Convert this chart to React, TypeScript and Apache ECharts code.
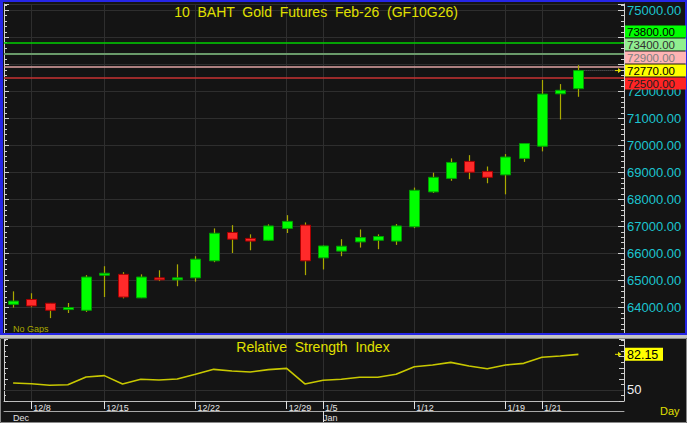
import React, { useEffect, useRef } from 'react';
import * as echarts from 'echarts';

const dates = ['12/5','12/8','12/9','12/11','12/12','12/15','12/16','12/17','12/18','12/19','12/22','12/23','12/24','12/25','12/26','12/29','12/30','1/5','1/6','1/7','1/8','1/9','1/12','1/13','1/14','1/15','1/16','1/19','1/20','1/21','1/22','1/23'];
const open = [64120,64300,64160,63940,63900,65210,65230,64360,65100,65040,65100,65730,66780,66560,66490,66930,67050,65840,66090,66430,66490,66460,66990,68280,68780,69410,69040,68910,69520,69970,71910,72100];
const close = [64240,64060,63900,64000,65130,65270,64390,65130,65030,65100,65790,66750,66530,66460,67020,67190,65730,66280,66270,66590,66630,67020,68340,68820,69370,69010,68820,69570,70070,71900,72040,72770];
const high = [64600,64530,64170,64170,65200,65530,65310,65230,65380,65600,65900,66930,67050,66710,67080,67420,67150,66300,66530,66890,66710,67090,68440,68990,69520,69640,69220,69680,70080,72420,72270,72970];
const low = [64000,64010,63610,63800,63840,64390,64340,64350,64980,64790,64960,65680,66020,66120,66480,66760,65200,65410,65900,66220,66160,66320,66940,68240,68690,68750,68600,68190,69390,69780,70960,71800];
const rsi = [56.3,55.6,54.2,54.7,61.7,62.9,55.4,59.6,59.0,59.9,64.1,68.6,67.1,66.2,68.3,69.5,55.4,58.7,59.7,61.4,61.4,64.1,71.0,72.5,74.9,71.6,69.2,72.5,74.0,79.5,80.6,82.15];
const gridDates = ['12/8','12/15','12/22','12/29','1/5','1/12','1/19','1/21'];
const monthNames: Record<string, string> = { '12': 'Dec', '1': 'Jan' };
const levelValues = [73800, 73400, 72900, 72500];
const levelLineColors = ['#00d000', '#6a9a6a', '#e0a4a4', '#c83232'];
const levelBoxColors = ['#00ff00', '#90ee90', '#ffb4b4', '#ff2424'];
const levelTextColors = ['#000000', '#303030', '#808080', '#202020'];
const lastPrice = close[close.length - 1];
const rsiLast = rsi[rsi.length - 1];
const title = '10  BAHT  Gold  Futures  Feb-26  (GF10G26)';
const rsiTitle = 'Relative  Strength  Index';

const FONT = 'Liberation Sans, Arial, sans-serif';
const YELLOW = '#e0e000';

export default function App() {
  const ref = useRef<HTMLDivElement>(null);
  useEffect(() => {
    const chart = echarts.init(ref.current!, null, { renderer: 'svg' });
    const cats = [...dates, ' ', '  '];
    const ohlc = dates.map((_, i) => [i, open[i], close[i], low[i], high[i]]);
    const monthStart = (i: number) => i < dates.length && (i === 0 || dates[i].split('/')[0] !== dates[i - 1].split('/')[0]);
    const vGrid = gridDates.map((d) => ({ xAxis: d }));

    const option: any = {
      animation: false,
      backgroundColor: '#141414',
      textStyle: { fontFamily: FONT },
      grid: [
        { left: 4, right: 63, top: 4, height: 330.6 },
        { left: 4, right: 63, top: 339, height: 62 },
      ],
      xAxis: [
        { type: 'category', gridIndex: 0, data: cats, boundaryGap: true, axisLine: { show: false }, axisTick: { show: false }, axisLabel: { show: false }, splitLine: { show: false } },
        {
          type: 'category', gridIndex: 1, data: cats, boundaryGap: true, position: 'bottom',
          axisLine: { show: true, lineStyle: { color: '#bdbdbd', width: 1 } },
          axisTick: { show: true, alignWithLabel: true, length: 8, interval: (i: number, v: string) => gridDates.includes(v), lineStyle: { color: '#e0e0e0' } },
          axisLabel: { show: true, interval: (i: number, v: string) => gridDates.includes(v), align: 'left', padding: [0, 0, 0, 2], margin: 2, fontSize: 9, color: '#e6e6e6', fontFamily: FONT },
          splitLine: { show: false },
        },
        {
          type: 'category', gridIndex: 1, data: cats, boundaryGap: true, position: 'bottom', offset: 10,
          axisLine: { show: true, lineStyle: { color: '#a8a8a8', width: 1 } },
          axisTick: { show: true, alignWithLabel: true, length: 12, interval: (i: number) => i > 0 && monthStart(i), lineStyle: { color: '#e0e0e0' } },
          axisLabel: { show: true, interval: (i: number) => monthStart(i), formatter: (v: string) => monthNames[v.split('/')[0]] || '', align: 'left', margin: 2, fontSize: 9, color: '#e0e0e0', fontFamily: FONT },
          splitLine: { show: false },
        },
      ],
      yAxis: [
        {
          type: 'value', gridIndex: 0, position: 'right', min: 63000, max: 75233, interval: 1000,
          axisLine: { show: true, lineStyle: { color: '#d0d0d0' } },
          axisTick: { show: true, inside: true, length: 6, lineStyle: { color: '#d0d0d0' } },
          minorTick: { show: true, splitNumber: 5, length: 3, lineStyle: { color: '#d0d0d0' } },
          axisLabel: { show: true, margin: 3, fontSize: 13, color: '#1cc4d0', fontFamily: FONT, formatter: (v: number) => (v % 1000 === 0 && v >= 64000 && v <= 75000 ? v.toFixed(2) : '') },
          splitLine: { show: true, lineStyle: { color: '#2e2e2e', width: 1 } },
        },
        {
          type: 'value', gridIndex: 0, position: 'left', min: 63000, max: 75233, interval: 1000,
          axisLine: { show: true, lineStyle: { color: '#d0d0d0' } },
          axisTick: { show: true, inside: true, length: 5, lineStyle: { color: '#d0d0d0' } },
          minorTick: { show: true, splitNumber: 5, length: 3, lineStyle: { color: '#d0d0d0' } },
          axisLabel: { show: false }, splitLine: { show: false },
        },
        {
          type: 'value', gridIndex: 1, position: 'right', min: 40, max: 96, interval: 10,
          axisLine: { show: true, lineStyle: { color: '#d0d0d0' } },
          axisTick: { show: true, inside: true, length: 5, lineStyle: { color: '#d0d0d0' } },
          minorTick: { show: true, splitNumber: 2, length: 3, lineStyle: { color: '#d0d0d0' } },
          axisLabel: { show: true, margin: 3, fontSize: 13, color: '#f0f0f0', fontFamily: FONT, formatter: (v: number) => (v === 50 ? '50' : '') },
          splitLine: { show: false },
        },
        {
          type: 'value', gridIndex: 1, position: 'left', min: 40, max: 96, interval: 10,
          axisLine: { show: true, lineStyle: { color: '#d0d0d0' } },
          axisTick: { show: true, inside: true, length: 4, lineStyle: { color: '#d0d0d0' } },
          minorTick: { show: true, splitNumber: 2, length: 2, lineStyle: { color: '#d0d0d0' } },
          axisLabel: { show: false }, splitLine: { show: false },
        },
      ],
      series: [
        {
          name: 'ref', type: 'line', xAxisIndex: 0, yAxisIndex: 0, data: close, symbol: 'none', silent: true, z: 1,
          lineStyle: { opacity: 0, width: 0 },
          markLine: {
            z: 1, silent: true, symbol: 'none', label: { show: false }, animation: false,
            data: [
              ...vGrid.map((d) => ({ ...d, lineStyle: { color: '#2e2e2e', width: 1, type: 'solid' } })),
              ...levelValues.map((v, i) => ({ yAxis: v, lineStyle: { color: levelLineColors[i], width: i === 1 ? 2 : 1.5, type: 'solid' } })),
              [
                { coord: [dates.length - 1, lastPrice], lineStyle: { color: '#6a6a6a', width: 1, type: 'dotted' } },
                { coord: [dates.length + 1, lastPrice] },
              ],
            ],
          },
        },
        {
          name: 'price', type: 'custom', xAxisIndex: 0, yAxisIndex: 0, data: ohlc, z: 3,
          encode: { x: 0, y: [1, 2, 3, 4] },
          renderItem: (params: any, api: any) => {
            const x = api.value(0);
            const o = api.value(1), c = api.value(2), l = api.value(3), h = api.value(4);
            const pO = api.coord([x, o]);
            const pC = api.coord([x, c]);
            const pL = api.coord([x, l]);
            const pH = api.coord([x, h]);
            const w = Math.round(api.size([1, 0])[0] * 0.56);
            const up = c >= o;
            const top = Math.min(pO[1], pC[1]);
            const bh = Math.max(Math.abs(pO[1] - pC[1]), 2);
            const cx = Math.round(pO[0]) + 0.5;
            return {
              type: 'group',
              children: [
                { type: 'line', shape: { x1: cx, y1: pH[1], x2: cx, y2: pL[1] }, style: { stroke: '#aaaa00', lineWidth: 1.2 } },
                { type: 'rect', shape: { x: cx - w / 2, y: top, width: w, height: bh }, style: { fill: up ? '#00ff00' : '#ff2a2a', stroke: up ? '#00a000' : '#a80000', lineWidth: 1 } },
              ],
            };
          },
        },
        {
          name: 'RSI', type: 'line', xAxisIndex: 1, yAxisIndex: 2, data: rsi, symbol: 'none', z: 3,
          lineStyle: { color: '#c8c800', width: 1.6 },
          markLine: {
            z: 1, silent: true, symbol: 'none', label: { show: false }, animation: false,
            data: [
              ...vGrid.map((d) => ({ ...d, lineStyle: { color: '#2e2e2e', width: 1, type: 'solid' } })),
              { yAxis: 50, lineStyle: { color: '#2e2e2e', width: 1, type: 'solid' } },
            ],
          },
        },
      ],
    };
    chart.setOption(option);

    // label boxes on the price axis, stacked around the last price
    const lv = [
      ...levelValues.map((v, i) => ({ v, bg: levelBoxColors[i], fg: levelTextColors[i], anchor: false })),
      { v: lastPrice, bg: '#ffff00', fg: '#000000', anchor: true },
    ].sort((a, b) => b.v - a.v);
    const cy = lv.map((l) => chart.convertToPixel({ yAxisIndex: 0 } as any, l.v) as number);
    const ai = lv.findIndex((l) => l.anchor);
    const gap = 13;
    for (let i = ai - 1; i >= 0; i--) cy[i] = Math.min(cy[i], cy[i + 1] - gap);
    for (let i = ai + 1; i < lv.length; i++) cy[i] = Math.max(cy[i], cy[i - 1] + gap);
    const hidden = (v: number) => {
      const y = chart.convertToPixel({ yAxisIndex: 0 } as any, v) as number;
      return cy.some((c) => Math.abs(c - y) < 6.5);
    };
    const lastY = chart.convertToPixel({ yAxisIndex: 0 } as any, lastPrice) as number;
    const rsiY = chart.convertToPixel({ yAxisIndex: 2 } as any, rsiLast) as number;

    const arrow = (x: number, y: number) => [
      { type: 'line', shape: { x1: x - 5, y1: y, x2: x, y2: y }, style: { stroke: YELLOW, lineWidth: 1 }, z: 50 },
      { type: 'polygon', shape: { points: [[x - 2, y - 2.5], [x + 1.5, y], [x - 2, y + 2.5]] }, style: { fill: YELLOW }, z: 50 },
    ];

    const graphic: any[] = [
      { type: 'rect', shape: { x: 1, y: 1, width: 685, height: 333 }, style: { fill: 'none', stroke: '#2626e6', lineWidth: 2 }, z: 60 },
      { type: 'rect', shape: { x: 0, y: 0, width: 3, height: 335 }, style: { fill: '#2626e6' }, z: 60 },
      { type: 'rect', shape: { x: 0, y: 335, width: 687, height: 3 }, style: { fill: '#c4c4c4' }, z: 60 },
      { type: 'rect', shape: { x: 0.5, y: 338.5, width: 686, height: 84 }, style: { fill: 'none', stroke: '#8a8a8a', lineWidth: 1 }, z: 60 },
      { type: 'text', x: 316, y: 12, style: { text: title, fill: YELLOW, font: `14px ${FONT}`, textAlign: 'center', textVerticalAlign: 'middle' }, z: 50 },
      { type: 'text', x: 313, y: 347, style: { text: rsiTitle, fill: YELLOW, font: `14px ${FONT}`, textAlign: 'center', textVerticalAlign: 'middle' }, z: 50 },
      { type: 'text', x: 13, y: 329, style: { text: 'No Gaps', fill: '#a8a800', font: `9px ${FONT}`, textAlign: 'left', textVerticalAlign: 'middle' }, z: 50 },
      { type: 'text', x: 660, y: 411, style: { text: 'Day', fill: YELLOW, font: `11px ${FONT}`, textAlign: 'left', textVerticalAlign: 'middle' }, z: 50 },
      ...lv.flatMap((l, i) => [
        { type: 'rect', shape: { x: 625, y: cy[i] - 6, width: 61, height: 12 }, style: { fill: l.bg }, z: 70 },
        { type: 'text', x: 627, y: cy[i] + 0.5, style: { text: l.v.toFixed(2), fill: l.fg, font: `11.5px ${FONT}`, textAlign: 'left', textVerticalAlign: 'middle' }, z: 71 },
      ]),
      ...arrow(620, lastY),
      { type: 'rect', shape: { x: 625, y: rsiY - 6.5, width: 38, height: 13 }, style: { fill: '#ffff00' }, z: 70 },
      { type: 'text', x: 627, y: rsiY + 0.5, style: { text: rsiLast.toFixed(2), fill: '#000000', font: `12.5px ${FONT}`, textAlign: 'left', textVerticalAlign: 'middle' }, z: 71 },
      ...arrow(620, rsiY),
    ];

    chart.setOption({
      yAxis: [{ axisLabel: { formatter: (v: number) => (v % 1000 === 0 && v >= 64000 && v <= 75000 && !hidden(v) ? v.toFixed(2) : '') } }],
      graphic,
    });

    return () => chart.dispose();
  }, []);
  return <div ref={ref} style={{ position: 'absolute', left: 0, top: 0, width: 687, height: 423 }} />;
}
